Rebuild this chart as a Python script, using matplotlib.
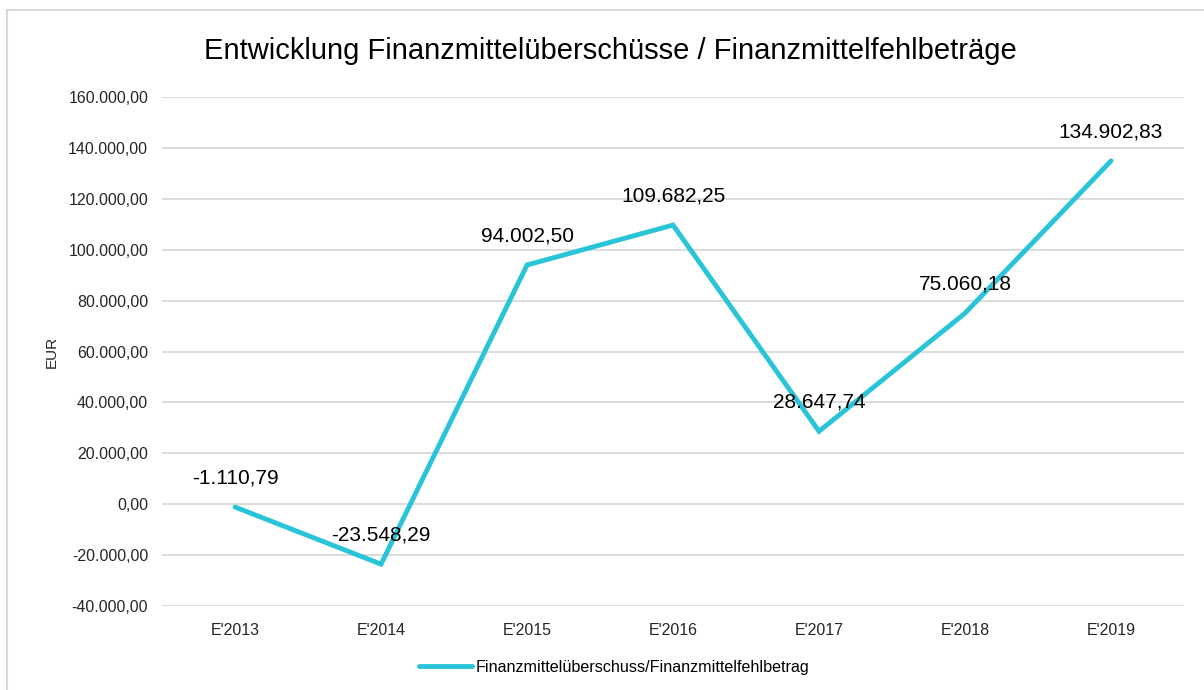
import matplotlib.pyplot as plt
from matplotlib.patches import Rectangle

plt.rcParams['font.family'] = ['Liberation Sans', 'DejaVu Sans']

jahre = ["E'2013", "E'2014", "E'2015", "E'2016", "E'2017", "E'2018", "E'2019"]
werte = [-1110.79, -23548.29, 94002.50, 109682.25, 28647.74, 75060.18, 134902.83]
y_ticks = [-40000, -20000, 0, 20000, 40000, 60000, 80000, 100000, 120000, 140000, 160000]

farbe = '#29C4D8'
grau = '#D9D9D9'


def de_format(v):
    # deutsches Zahlenformat: 1.234,56
    s = f"{v:,.2f}"
    return s.replace(",", "X").replace(".", ",").replace("X", ".")


fig = plt.figure(figsize=(12.04, 6.9), dpi=100)
ax = fig.add_axes([0.1346, 0.1217, 0.8488, 0.7377])

# Rahmen um das Diagramm
fig.patches.append(Rectangle((7 / 1204, -0.1), 1.2, 1 - 10 / 690 + 0.1, transform=fig.transFigure,
                             fill=False, edgecolor=grau, linewidth=1.5))

x = list(range(len(jahre)))
linie, = ax.plot(x, werte, color=farbe, linewidth=3.5, solid_joinstyle='miter', solid_capstyle='round',
                 label='Finanzmittelüberschuss/Finanzmittelfehlbetrag', zorder=3)

for xi, v in zip(x, werte):
    ax.annotate(de_format(v), (xi, v), xytext=(0, 21), textcoords='offset points',
                ha='center', va='center', fontsize=15, color='#000000', zorder=4)

ax.set_xlim(-0.5, len(jahre) - 0.5)
ax.set_ylim(-40000, 160000)
ax.set_yticks(y_ticks)
ax.set_yticklabels([de_format(t) for t in y_ticks])
ax.set_xticks(x)
ax.set_xticklabels(jahre)
ax.tick_params(length=0, labelsize=11.5, colors='#262626', pad=10)
ax.tick_params(axis='x', pad=12)
ax.grid(axis='y', color=grau, linewidth=1.3)
ax.set_axisbelow(True)
for s in ax.spines.values():
    s.set_visible(False)

ax.set_ylabel('EUR', fontsize=11, color='#262626', labelpad=7)

fig.text(0.507, 0.926, 'Entwicklung Finanzmittelüberschüsse / Finanzmittelfehlbeträge',
         ha='center', va='center', fontsize=21, color='#000000')

fig.legend(handles=[linie], loc='center', bbox_to_anchor=(0.51, 0.033), frameon=False,
           fontsize=11.6, handlelength=3.3, handletextpad=0.2)

fig.savefig('out.png', dpi=100)
